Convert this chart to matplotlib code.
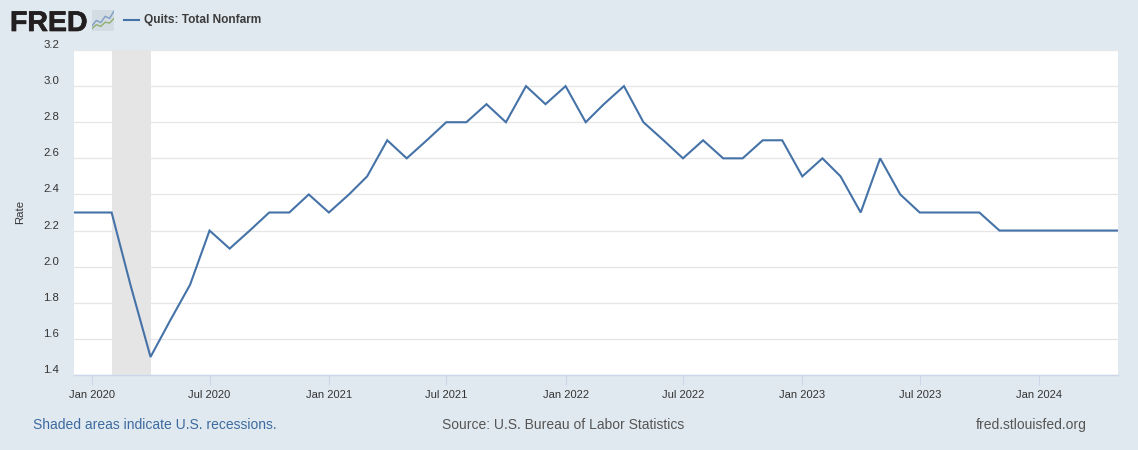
#!/usr/bin/env python3
# -*- coding: utf-8 -*-

import matplotlib
matplotlib.use("Agg")
import matplotlib.dates as mdates
import matplotlib.patheffects as pe
import matplotlib.pyplot as plt
import pandas as pd

# monthly values, Dec 2019 to May 2024 (first point is cut by the left edge)
start_month = "2019-12-01"
quits_rate = [
    2.3, 2.3, 2.3, 1.9, 1.5, 1.7, 1.9, 2.2, 2.1, 2.2, 2.3, 2.3, 2.4,
    2.3, 2.4, 2.5, 2.7, 2.6, 2.7, 2.8, 2.8, 2.9, 2.8, 3.0, 2.9,
    3.0, 2.8, 2.9, 3.0, 2.8, 2.7, 2.6, 2.7, 2.6, 2.6, 2.7, 2.7,
    2.5, 2.6, 2.5, 2.3, 2.6, 2.4, 2.3, 2.3, 2.3, 2.3, 2.2, 2.2,
    2.2, 2.2, 2.2, 2.2, 2.2,
]
recession = ["2020-02-01", "2020-04-01"]
x_limits = ["2019-12-05", "2024-05-01"]
x_ticks = ["2020-01-01", "2020-07-01", "2021-01-01", "2021-07-01", "2022-01-01",
           "2022-07-01", "2023-01-01", "2023-07-01", "2024-01-01"]
x_labels = ["Jan 2020", "Jul 2020", "Jan 2021", "Jul 2021", "Jan 2022",
            "Jul 2022", "Jan 2023", "Jul 2023", "Jan 2024"]
y_ticks = [1.4, 1.6, 1.8, 2.0, 2.2, 2.4, 2.6, 2.8, 3.0, 3.2]

# little chart inside the logo
icon_blue = [0.25, 0.5, 0.4, 0.7, 0.6, 0.95]
icon_green = [0.12, 0.3, 0.22, 0.42, 0.38, 0.6]

BG = "#e1e9f0"
LINE = "#4572a7"
W, H = 1138, 450

plt.rcParams["font.family"] = ["Liberation Sans", "DejaVu Sans"]

fig = plt.figure(figsize=(W / 100, H / 100), dpi=100, facecolor=BG)
ax = fig.add_axes([74 / W, 1 - 375 / H, (1117.5 - 74) / W, 325 / H], facecolor="white")

months = pd.date_range(start_month, periods=len(quits_rate), freq="MS")
ax.axvspan(pd.Timestamp(recession[0]), pd.Timestamp(recession[1]), color="#e5e5e5", lw=0, zorder=1)
ax.plot(months, quits_rate, color=LINE, lw=1.5, zorder=3, solid_joinstyle="miter")

ax.set_xlim(mdates.date2num(pd.Timestamp(x_limits[0])), mdates.date2num(pd.Timestamp(x_limits[1])))
ax.set_ylim(1.4, 3.2)
ax.set_yticks(y_ticks)
ax.set_xticks([pd.Timestamp(t) for t in x_ticks])
ax.set_xticklabels(x_labels)
ax.grid(True, axis="y", color="#e6e6e6", lw=0.9, zorder=0)
ax.set_axisbelow(True)

for s in ["top", "right", "left"]:
    ax.spines[s].set_visible(False)
ax.spines["bottom"].set_color("#ccd6eb")
ax.spines["bottom"].set_linewidth(1.0)

ax.tick_params(axis="x", length=7, width=0.8, color="#ccd6eb", labelsize=8.0,
               labelcolor="#333333", pad=4)
ax.tick_params(axis="y", length=0, labelsize=8.2, labelcolor="#333333", pad=10.5)
for lab in ax.get_yticklabels():
    lab.set_va("bottom")

fig.text(20.5 / W, 1 - 212 / H, "Rate", rotation=90, fontsize=8.2, color="#333333",
         ha="center", va="center")

# header
fig.text(10 / W, 1 - 31 / H, "FRED", fontsize=20.5, fontweight="bold", color="#231f20",
         ha="left", va="baseline",
         path_effects=[pe.withStroke(linewidth=0.5, foreground="#231f20")])
icon = fig.add_axes([92 / W, 1 - 31 / H, 22 / W, 21 / H], facecolor="#d3dbe3")
icon.plot(icon_blue, color="#7f9fc4", lw=1.0)
icon.plot(icon_green, color="#8fb06f", lw=1.0)
icon.set_xlim(0, 5)
icon.set_ylim(0, 1)
icon.set_xticks([])
icon.set_yticks([])
for s in icon.spines.values():
    s.set_visible(False)

fig.add_artist(plt.Line2D([123.5 / W, 139 / W], [1 - 20 / H, 1 - 20 / H], color=LINE, lw=1.5))
fig.text(144 / W, 1 - 20.5 / H, "Quits: Total Nonfarm", fontsize=8.6, fontweight="bold",
         color="#3c3c3c", ha="left", va="center")

# footer
fig.text(33 / W, 1 - 425 / H, "Shaded areas indicate U.S. recessions.", fontsize=9.98,
         color="#3d6a9e", ha="left", va="center")
fig.text(442 / W, 1 - 425 / H, "Source: U.S. Bureau of Labor Statistics", fontsize=9.98,
         color="#555555", ha="left", va="center")
fig.text(1087 / W, 1 - 425 / H, "fred.stlouisfed.org", fontsize=9.98,
         color="#555555", ha="right", va="center")

fig.savefig("out.png", dpi=100, facecolor=BG)
